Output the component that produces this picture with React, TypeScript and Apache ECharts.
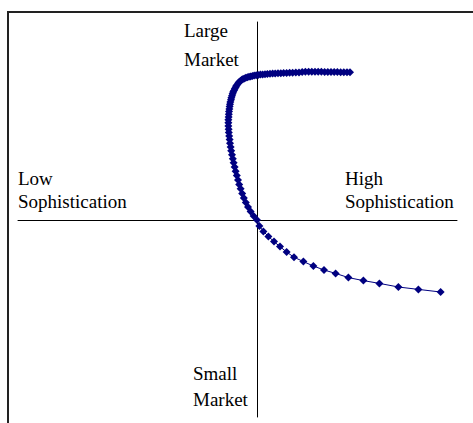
import React, { useEffect, useRef } from "react";
import * as echarts from "echarts";

// Upper branch: from the right end of the "large market" plateau down to the origin
const upperX = [
  4.65, 4.5, 4.34, 4.18, 4.02, 3.86, 3.7, 3.54, 3.38, 3.22, 3.06, 2.9, 2.74, 2.58, 2.42, 2.26,
  2.1, 1.94, 1.78, 1.63, 1.48, 1.33, 1.19, 1.05, 0.91, 0.78, 0.65, 0.52, 0.4, 0.28, 0.17, 0.06,
  -0.04, -0.14, -0.23, -0.32, -0.4, -0.48, -0.56, -0.63, -0.7, -0.76, -0.82, -0.88, -0.93, -0.98,
  -1.03, -1.07, -1.11, -1.15, -1.19, -1.22, -1.25, -1.28, -1.3, -1.33, -1.35, -1.37, -1.38, -1.4,
  -1.41, -1.42, -1.43, -1.43, -1.43, -1.42, -1.41, -1.39, -1.37, -1.35, -1.32, -1.29, -1.25, -1.21,
  -1.17, -1.12, -1.07, -1.01, -0.95, -0.89, -0.82, -0.74, -0.66, -0.56, -0.45, -0.32, -0.17, 0,
];
const upperY = [
  7.39, 7.39, 7.39, 7.39, 7.4, 7.4, 7.4, 7.4, 7.4, 7.41, 7.41, 7.41, 7.41, 7.41, 7.41, 7.4,
  7.38, 7.37, 7.36, 7.36, 7.35, 7.35, 7.34, 7.34, 7.33, 7.32, 7.31, 7.3, 7.29, 7.28, 7.27, 7.25,
  7.24, 7.22, 7.2, 7.18, 7.16, 7.14, 7.11, 7.08, 7.05, 7.01, 6.96, 6.91, 6.85, 6.78,
  6.71, 6.64, 6.56, 6.48, 6.4, 6.31, 6.21, 6.11, 6.01, 5.9, 5.79, 5.67, 5.55, 5.42,
  5.29, 5.15, 5.01, 4.86, 4.7, 4.54, 4.37, 4.2, 4.02, 3.84, 3.65, 3.46, 3.26, 3.06,
  2.86, 2.65, 2.44, 2.22, 2.0, 1.78, 1.56, 1.33, 1.1, 0.88, 0.65, 0.42, 0.2, 0,
];

// Lower branch: from the origin towards "high sophistication / small market"
const lowerX = [0.12, 0.32, 0.57, 0.85, 1.15, 1.48, 1.85, 2.32, 2.82, 3.35, 3.93, 4.57, 5.32, 6.12, 7.07, 8.07, 9.18];
const lowerY = [-0.3, -0.57, -0.82, -1.08, -1.33, -1.6, -1.86, -2.08, -2.3, -2.5, -2.67, -2.88, -3.03, -3.17, -3.35, -3.47, -3.6];

const topLabel = ["Large", "Market"];
const bottomLabel = ["Small", "Market"];
const leftLabel = ["Low", "Sophistication"];
const rightLabel = ["High", "Sophistication"];

const FONT = '"Liberation Serif", "Times New Roman", serif';
const FS = 19;

function labelLines(lines: string[], x: number, ys: number[]) {
  return lines.map((t, i) => ({
    type: "text",
    x,
    y: ys[i],
    silent: true,
    style: {
      text: t,
      fill: "#000",
      font: `${FS}px ${FONT}`,
      align: "left",
      verticalAlign: "middle",
    },
  }));
}

export default function App() {
  const ref = useRef<HTMLDivElement>(null);
  useEffect(() => {
    if (!ref.current) return;
    const chart = echarts.init(ref.current, null, { renderer: "svg" });
    const data: number[][] = [];
    upperX.forEach((x, i) => data.push([x, upperY[i]]));
    lowerX.forEach((x, i) => data.push([x, lowerY[i]]));
    const hiddenAxis = {
      type: "value" as const,
      axisLine: { show: true, onZero: true, lineStyle: { color: "#000", width: 1 } },
      axisTick: { show: false },
      axisLabel: { show: false },
      splitLine: { show: false },
    };
    chart.setOption({
      animation: false,
      backgroundColor: "#fff",
      grid: { left: 18, top: 22, width: 439, height: 395 },
      xAxis: { ...hiddenAxis, min: -11.95, max: 10 },
      yAxis: { ...hiddenAxis, min: -9.85, max: 9.9 },
      series: [
        {
          type: "line",
          data,
          symbol: "diamond",
          symbolSize: 8,
          showSymbol: true,
          showAllSymbol: true,
          clip: false,
          itemStyle: { color: "#000080" },
          lineStyle: { color: "#000080", width: 1 },
        },
      ],
      graphic: [
        { type: "line", shape: { x1: 8, y1: 11, x2: 8, y2: 430 }, style: { stroke: "#222", lineWidth: 2 }, silent: true },
        { type: "line", shape: { x1: 7, y1: 12, x2: 480, y2: 12 }, style: { stroke: "#222", lineWidth: 2 }, silent: true },
        ...labelLines(topLabel, 184, [30.3, 59.3]),
        ...labelLines(leftLabel, 18, [178.6, 201.3]),
        ...labelLines(rightLabel, 345, [178.6, 201.3]),
        ...labelLines(bottomLabel, 193, [373.6, 399.6]),
      ],
    });
    return () => chart.dispose();
  }, []);
  return <div ref={ref} style={{ position: "fixed", left: 0, top: 0, width: 473, height: 423 }} />;
}
